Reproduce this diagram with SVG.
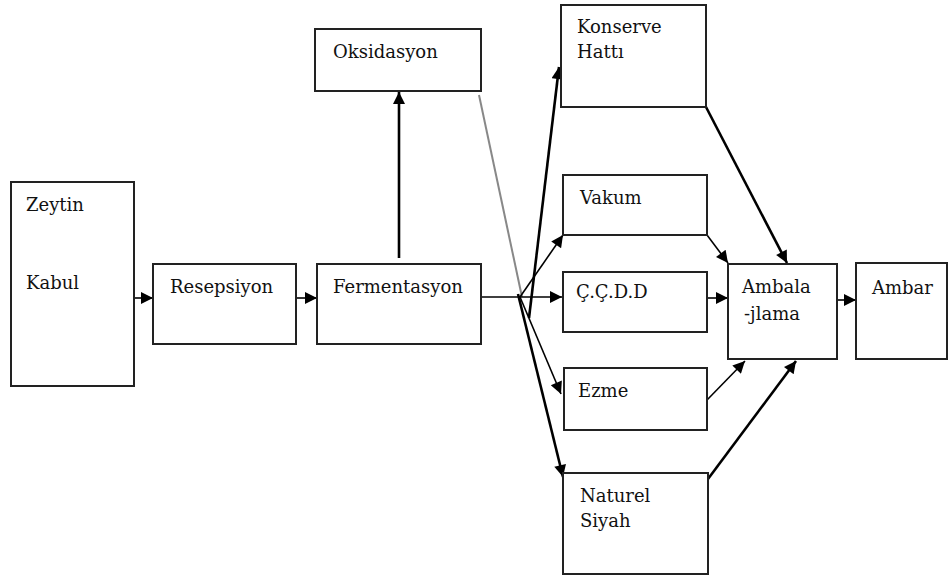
<svg xmlns="http://www.w3.org/2000/svg" width="949" height="581" viewBox="0 0 949 581">
<defs>
<marker id="ah" viewBox="0 0 10 10" refX="10" refY="5" markerWidth="14" markerHeight="12" markerUnits="userSpaceOnUse" orient="auto">
<path d="M0,0 L10,5 L0,10 z" fill="#000"/>
</marker>
</defs>
<style>
.box{fill:#fff;stroke:#222;stroke-width:2}
.t{font-family:'DejaVu Serif',serif;font-size:18px;fill:#111}
.c{stroke:#000;stroke-width:1.6;fill:none;marker-end:url(#ah)}
.ck{stroke:#000;stroke-width:2.6;fill:none;marker-end:url(#ah)}
.g{stroke:#888;stroke-width:2;fill:none}
</style>
<rect width="949" height="581" fill="#fff"/>
<g id="connectors">
<line class="g" x1="479" y1="95" x2="522" y2="297"/>
<line class="c" x1="134" y1="298" x2="153" y2="298"/>
<line class="c" x1="296" y1="298" x2="317" y2="298"/>
<line class="ck" x1="399" y1="258" x2="399" y2="92"/>
<line class="c" x1="481" y1="297" x2="562" y2="297"/>
<line class="ck" x1="529" y1="318" x2="559" y2="67"/>
<line class="c" x1="520" y1="297" x2="563" y2="235"/>
<line class="c" x1="520" y1="297" x2="561" y2="394"/>
<line class="ck" x1="518" y1="294" x2="563" y2="477"/>
<line class="ck" x1="706" y1="107" x2="787" y2="263"/>
<line class="c" x1="707" y1="235" x2="728" y2="263"/>
<line class="c" x1="707" y1="298" x2="728" y2="298"/>
<line class="c" x1="707" y1="400" x2="745" y2="361"/>
<line class="ck" x1="708" y1="479" x2="796" y2="361"/>
<line class="c" x1="837" y1="300" x2="856" y2="300"/>
</g>
<g id="zeytin-kabul"><rect class="box" x="11" y="182" width="123" height="204"/><text class="t" x="26" y="211">Zeytin</text><text class="t" x="26" y="289">Kabul</text></g>
<g id="resepsiyon"><rect class="box" x="153" y="264" width="143" height="80"/><text class="t" x="170" y="293">Resepsiyon</text></g>
<g id="fermentasyon"><rect class="box" x="317" y="264" width="164" height="80"/><text class="t" x="333" y="293">Fermentasyon</text></g>
<g id="oksidasyon"><rect class="box" x="315" y="29" width="166" height="62"/><text class="t" x="333" y="58">Oksidasyon</text></g>
<g id="konserve"><rect class="box" x="561" y="5" width="145" height="102"/><text class="t" x="577" y="33">Konserve</text><text class="t" x="577" y="58">Hattı</text></g>
<g id="vakum"><rect class="box" x="563" y="175" width="144" height="60"/><text class="t" x="580" y="204">Vakum</text></g>
<g id="ccdd"><rect class="box" x="563" y="272" width="144" height="60"/><text class="t" x="576" y="298">Ç.Ç.D.D</text></g>
<g id="ezme"><rect class="box" x="564" y="368" width="143" height="62"/><text class="t" x="578" y="397">Ezme</text></g>
<g id="naturel"><rect class="box" x="563" y="473" width="145" height="101"/><text class="t" x="580" y="502">Naturel</text><text class="t" x="580" y="527">Siyah</text></g>
<g id="ambalajlama"><rect class="box" x="728" y="264" width="109" height="95"/><text class="t" x="742" y="293">Ambala</text><text class="t" x="744" y="320">-jlama</text></g>
<g id="ambar"><rect class="box" x="856" y="263" width="91" height="96"/><text class="t" x="872" y="294">Ambar</text></g>
</svg>
